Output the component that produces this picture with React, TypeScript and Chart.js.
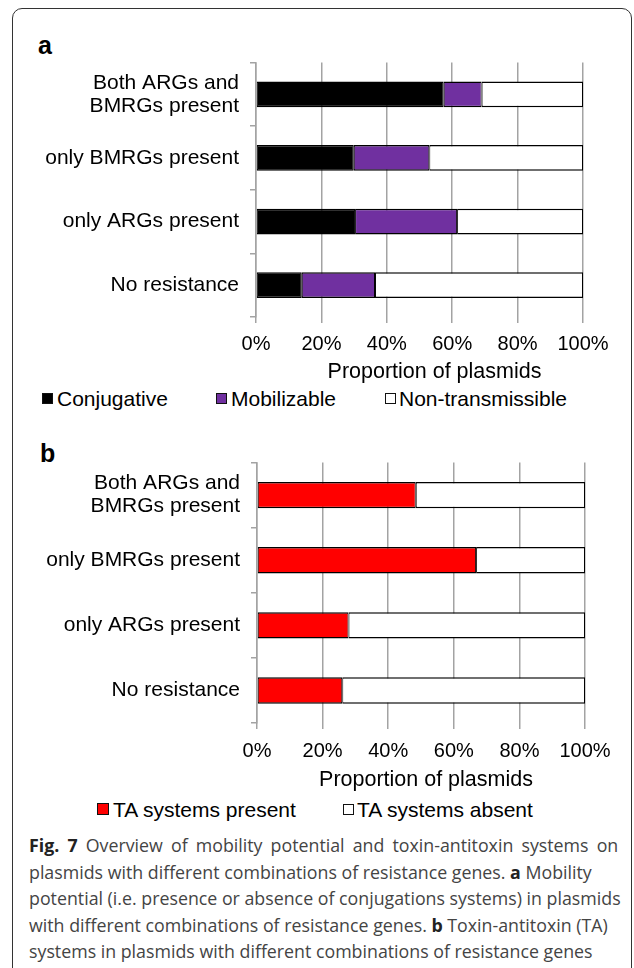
import React, { useEffect, useRef } from "react";
import { Chart, registerables } from "chart.js";

Chart.register(...registerables);

// ---- data ----
const categories: (string | string[])[] = [
  ["Both ARGs and", "BMRGs present"],
  "only BMRGs present",
  "only ARGs present",
  "No resistance",
];
const conjugative = [57.4, 29.9, 30.3, 14.0];
const mobilizable = [11.6, 23.1, 31.2, 22.4];
const nonTransmissible = [31.0, 47.0, 38.5, 63.6];
const taPresent = [48.4, 66.8, 27.9, 26.0];
const taAbsent = [51.6, 33.2, 72.1, 74.0];
const xTickStep = 20;
const xMax = 100;
const xTitle = "Proportion of plasmids";
const legendA = ["Conjugative", "Mobilizable", "Non-transmissible"];
const legendB = ["TA systems present", "TA systems absent"];

const SANS = "'Liberation Sans', Arial, Helvetica, sans-serif";
const GRID = "#a3a3a3";

type Geom = {
  top: number;
  height: number;
  padTop: number;
  padRight: number;
  yWidth: number;
  xHeight: number;
  tickPad: number;
  titleY: number;
  titleDx: number;
};

function makeDataset(label: string, data: number[], color: string) {
  return {
    label,
    data,
    backgroundColor: color,
    borderColor: "#000",
    borderWidth: { top: 1.5, bottom: 1.5, left: 1, right: 1 },
    borderSkipped: false as const,
    barPercentage: 0.405,
    categoryPercentage: 1,
  };
}

const xTitlePlugin = {
  id: "xTitleOffset",
  afterDraw(chart: any, _args: any, opts: any) {
    const { ctx, chartArea } = chart;
    ctx.save();
    ctx.font = `${opts.size}px ${SANS}`;
    ctx.fillStyle = "#000";
    ctx.textAlign = "center";
    ctx.textBaseline = "middle";
    ctx.fillText(opts.text, (chartArea.left + chartArea.right) / 2 + opts.dx, opts.y);
    ctx.restore();
  },
};

function BarPanel({ geom, datasets }: { geom: Geom; datasets: any[] }) {
  const ref = useRef<HTMLCanvasElement | null>(null);
  useEffect(() => {
    if (!ref.current) return;
    const chart = new Chart(ref.current, {
      type: "bar",
      data: { labels: categories as any, datasets },
      plugins: [xTitlePlugin as any],
      options: {
        indexAxis: "y",
        responsive: false,
        animation: false,
        layout: { padding: { top: geom.padTop, right: geom.padRight, left: 0, bottom: 0 } },
        plugins: {
          legend: { display: false },
          tooltip: { enabled: false },
          xTitleOffset: { text: xTitle, size: 21.5, dx: geom.titleDx, y: geom.titleY - geom.top },
        },
        scales: {
          x: {
            stacked: true,
            min: 0,
            max: xMax,
            ticks: {
              stepSize: xTickStep,
              callback: (v: any) => v + "%",
              color: "#000",
              font: { family: SANS, size: 20 },
              padding: geom.tickPad,
              maxRotation: 0,
            },
            grid: { color: GRID, lineWidth: 1.5, tickLength: 6, drawTicks: true },
            border: { display: false },
            title: { display: false },
            afterFit: (s: any) => {
              s.height = geom.xHeight;
            },
          },
          y: {
            stacked: true,
            ticks: {
              color: "#000",
              font: { family: SANS, size: 21, lineHeight: 1.1 },
              padding: 11,
              autoSkip: false,
            },
            grid: {
              drawOnChartArea: false,
              drawTicks: true,
              tickLength: 6,
              color: GRID,
              lineWidth: 1.5,
              offset: true,
            },
            border: { display: true, color: GRID, width: 1.5 },
            afterFit: (s: any) => {
              s.width = geom.yWidth;
            },
          },
        },
      } as any,
    });
    return () => chart.destroy();
  }, []);
  return (
    <canvas
      ref={ref}
      width={634}
      height={geom.height}
      style={{ position: "absolute", left: 0, top: geom.top, width: 634, height: geom.height }}
    />
  );
}

function Txt({ x, cy, size, children, bold, family = SANS, color = "#000", lh, ws }: any) {
  const lineH = lh ?? Math.round(size * 1.2);
  return (
    <div
      style={{
        position: "absolute",
        left: x,
        top: cy - lineH / 2,
        fontFamily: family,
        fontSize: size,
        lineHeight: lineH + "px",
        fontWeight: bold ? 700 : 400,
        color,
        whiteSpace: "nowrap",
        wordSpacing: ws ?? 0,
      }}
    >
      {children}
    </div>
  );
}

function Swatch({ x, cy, color, size = 11 }: any) {
  return (
    <div
      style={{
        position: "absolute",
        left: x,
        top: cy - size / 2,
        width: size,
        height: size,
        boxSizing: "border-box",
        background: color,
        border: "1.4px solid #111",
      }}
    />
  );
}

const CAP = "'Open Sans', 'Noto Sans', sans-serif";

export default function App() {
  const geomA: Geom = {
    top: 40, height: 345, padTop: 14, padRight: 51, yWidth: 256, xHeight: 68, tickPad: 9, titleY: 372, titleDx: 15,
  };
  const geomB: Geom = {
    top: 440, height: 352, padTop: 16, padRight: 49, yWidth: 257, xHeight: 69, tickPad: 10, titleY: 780, titleDx: 5,
  };

  const dsA = [
    makeDataset(legendA[0], conjugative, "#000000"),
    makeDataset(legendA[1], mobilizable, "#7030A0"),
    makeDataset(legendA[2], nonTransmissible, "#ffffff"),
  ];
  const dsB = [
    makeDataset(legendB[0], taPresent, "#ff0000"),
    makeDataset(legendB[1], taAbsent, "#ffffff"),
  ];

  const B = { color: "#222" };
  const capLines: React.ReactNode[] = [
    <>
      <b style={B}>Fig. 7</b> Overview of mobility potential and toxin-antitoxin systems on
    </>,
    <>
      plasmids with different combinations of resistance genes. <b style={B}>a</b> Mobility
    </>,
    <>potential (i.e. presence or absence of conjugations systems) in plasmids</>,
    <>
      with different combinations of resistance genes. <b style={B}>b</b> Toxin-antitoxin (TA)
    </>,
    <>systems in plasmids with different combinations of resistance genes</>,
  ];
  const capY = [845, 871.5, 898, 924.5, 951];
  const capWs = [3.5, 0, 0, 0, 0];

  return (
    <div
      style={{
        position: "absolute",
        left: 0,
        top: 0,
        width: 634,
        height: 968,
        overflow: "hidden",
        background: "#fff",
      }}
    >
      <div
        style={{
          position: "absolute",
          left: 12,
          top: 8,
          width: 620,
          height: 1000,
          boxSizing: "border-box",
          border: "1.5px solid #333",
          borderRadius: 10,
        }}
      />
      <Txt x={38} cy={45} size={25} bold>
        a
      </Txt>
      <BarPanel geom={geomA} datasets={dsA} />
      <Swatch x={42} cy={398} color="#000" />
      <Txt x={57} cy={398} size={21}>
        {legendA[0]}
      </Txt>
      <Swatch x={216} cy={398} color="#7030A0" />
      <Txt x={231} cy={398} size={21}>
        {legendA[1]}
      </Txt>
      <Swatch x={385} cy={398} color="#fff" />
      <Txt x={399} cy={398} size={21}>
        {legendA[2]}
      </Txt>

      <Txt x={40} cy={453} size={25} bold>
        b
      </Txt>
      <BarPanel geom={geomB} datasets={dsB} />
      <Swatch x={97} cy={809} color="#ff0000" size={12} />
      <Txt x={113} cy={809} size={21}>
        {legendB[0]}
      </Txt>
      <Swatch x={343} cy={809} color="#fff" />
      <Txt x={357} cy={809} size={21}>
        {legendB[1]}
      </Txt>

      {capLines.map((ln, i) => (
        <Txt key={i} x={29} cy={capY[i]} size={17.8} family={CAP} color="#444" lh={24} ws={capWs[i]}>
          {ln}
        </Txt>
      ))}
    </div>
  );
}
